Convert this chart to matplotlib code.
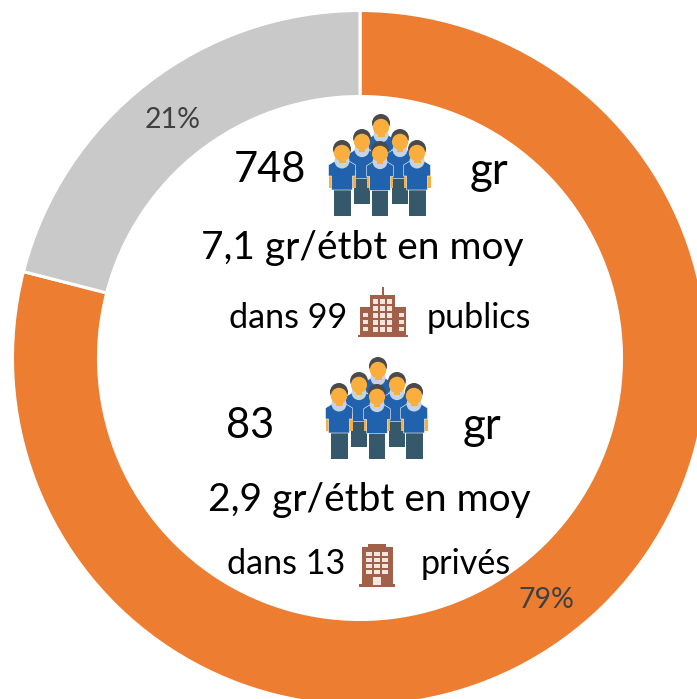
import matplotlib
matplotlib.use("Agg")
import matplotlib.pyplot as plt
from matplotlib.patches import Rectangle, Circle, Polygon

plt.rcParams['font.family'] = ['Lato', 'DejaVu Sans']

shares = [79, 21]
share_labels = ['79%', '21%']
colors = ['#ED7D31', '#C9C9C9']

W, H = 697, 699
fig = plt.figure(figsize=(W / 100, H / 100), dpi=100)
ax = fig.add_axes([0, 0, 1, 1])

def Y(py):
    return H - py

ax.pie(shares, colors=colors, startangle=90, counterclock=False,
       center=(360, Y(358)), radius=347.5, frame=True,
       wedgeprops=dict(width=86, edgecolor='white', linewidth=2.2))
ax.set_xlim(0, W)
ax.set_ylim(0, H)
ax.set_aspect('equal')
ax.axis('off')

def T(x, y, s, size, color='black', ha='center'):
    ax.text(x, Y(y + 1.5), s, fontsize=size, color=color, ha=ha, va='center')

T(173, 118, share_labels[1], 20.5, '#404040')
T(546, 599, share_labels[0], 20.5, '#404040')

T(270, 169, '748', 30)
T(488.5, 170, 'gr', 31.5)
T(362, 247, '7,1 gr/étbt en moy', 28)
T(288, 316, 'dans 99', 24.6)
T(479, 316, 'publics', 24.6)
T(250.5, 425, '83', 30)
T(481.5, 425, 'gr', 31.5)
T(369, 498, '2,9 gr/étbt en moy', 28)
T(286, 563, 'dans 13', 24.6)
T(465.5, 563, 'privés', 24.6)

SHIRT, PANTS, SKIN, HAIR = '#2162AE', '#35596A', '#F9AE3D', '#4A4A4A'
COLLAR = '#C4D3E6'
BRICK = '#A0604A'
PANE = '#F4E6DF'

def rect(x0, y0, x1, y1, c, z=3):
    ax.add_patch(Rectangle((x0, Y(y1)), x1 - x0, y1 - y0, fc=c, ec='none', zorder=z))

def person(cx, top, bottom, z):
    u = (bottom - top) / 76
    rect(cx - 8.5 * u, top + 48 * u, cx + 8.5 * u, bottom, PANTS, z)
    rect(cx - 13.5 * u, top + 30 * u, cx - 10 * u, top + 48 * u, SKIN, z)
    rect(cx + 10 * u, top + 30 * u, cx + 13.5 * u, top + 48 * u, SKIN, z)
    pts = [(cx - 7 * u, top + 21 * u), (cx + 7 * u, top + 21 * u), (cx + 13.5 * u, top + 25 * u),
           (cx + 13.5 * u, top + 36 * u), (cx + 10.5 * u, top + 36 * u), (cx + 10.5 * u, top + 50 * u),
           (cx - 10.5 * u, top + 50 * u), (cx - 10.5 * u, top + 36 * u), (cx - 13.5 * u, top + 36 * u),
           (cx - 13.5 * u, top + 25 * u)]
    ax.add_patch(Polygon([(x, Y(y)) for x, y in pts], fc=SHIRT, ec='white', lw=0.4, zorder=z))
    ax.add_patch(Circle((cx, Y(top + 21 * u)), 7.5 * u, fc=COLLAR, ec='none', zorder=z))
    ax.add_patch(Circle((cx, Y(top + 9 * u)), 9 * u, fc=HAIR, ec='none', zorder=z))
    ax.add_patch(Circle((cx, Y(top + 13 * u)), 8.2 * u, fc=SKIN, ec='none', zorder=z))
    rect(cx - 3.5 * u, top + 17 * u, cx + 3.5 * u, top + 23 * u, SKIN, z)

def crowd(dx, dy):
    layout = [(381, 114, 190), (362, 129, 204), (400, 129, 204),
              (342, 140, 216), (417, 140, 216), (380, 141, 216)]
    for i, (cx, t, b) in enumerate(layout):
        person(cx + dx, t + dy, b + dy, 4 + i)

crowd(0, 0)
crowd(-3, 243)

# public building (tower with two wings)
rect(358, 335, 408, 337, BRICK)
rect(360, 307, 406, 336, BRICK)
rect(370, 295, 395, 336, BRICK)
rect(381.5, 287, 384, 296, BRICK)
for r in range(5):
    for c in range(3):
        rect(373 + c * 7, 299 + r * 7, 378 + c * 7, 303.5 + r * 7, PANE, 5)
for r in range(3):
    for x in (362.5, 398.5):
        rect(x, 313 + r * 7, x + 5.5, 317 + r * 7, PANE, 5)

# private building
rect(359, 584, 395, 587, BRICK)
rect(362, 547, 393, 585, BRICK)
rect(368, 544, 386, 548, BRICK)
for r in range(4):
    for c in range(3):
        rect(366 + c * 8, 552 + r * 6, 372 + c * 8, 556 + r * 6, PANE, 5)
rect(373, 577, 381, 585, PANE, 5)

fig.savefig('out.png', dpi=100, facecolor='white')
